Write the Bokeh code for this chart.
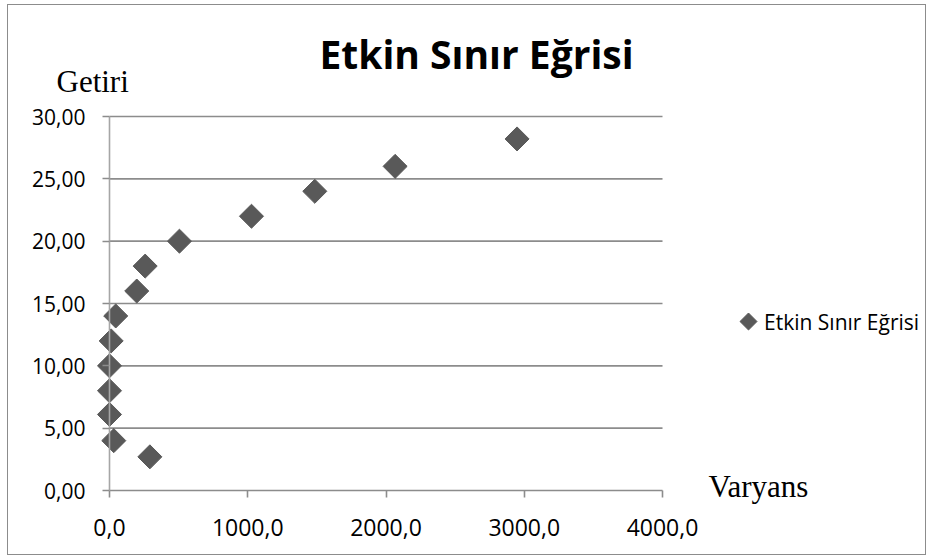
from bokeh.plotting import figure
from bokeh.models import FixedTicker, Label, Legend, LegendItem, ColumnDataSource, Range1d
from bokeh.embed import file_html
from bokeh.resources import INLINE

# ---- data ----
series_name = "Etkin Sınır Eğrisi"
varyans = [292, 31, 0, 0, 0, 12, 45, 197, 258, 506, 1027, 1485, 2066, 2948]
getiri = [2.7, 4.0, 6.1, 8.0, 10.0, 12.0, 14.0, 16.0, 18.0, 20.0, 22.0, 24.0, 26.0, 28.2]
x_ticks = [0, 1000, 2000, 3000, 4000]
x_tick_labels = ["0,0", "1000,0", "2000,0", "3000,0", "4000,0"]
y_ticks = [0, 5, 10, 15, 20, 25, 30]
y_tick_labels = ["0,00", "5,00", "10,00", "15,00", "20,00", "25,00", "30,00"]
title_text = "Etkin Sınır Eğrisi"
y_label_text = "Getiri"
x_label_text = "Varyans"

# ---- geometry (canvas pixels) ----
W, H = 919, 551
AX_L, AX_R = 101, 654      # x = 0 .. 4000
AX_B, AX_T = 485, 111      # y = 0 .. 30 (from canvas top)
x0, x1 = x_ticks[0], x_ticks[-1]
y0, y1 = y_ticks[0], y_ticks[-1]
kx = (x1 - x0) / (AX_R - AX_L)
ky = (y1 - y0) / (AX_B - AX_T)
xr = Range1d(x0 - AX_L * kx, x0 + (W - AX_L) * kx)
yr = Range1d(y0 - (H - AX_B) * ky, y0 + AX_B * ky)

def to_data(cx, cy):
    """canvas pixel -> data coordinates (for legend key placement)"""
    return x0 + (cx - AX_L) * kx, y0 + (AX_B - cy) * ky

GRID = "#8c8c8c"
MARK = "#595959"

p = figure(width=W, height=H, x_range=xr, y_range=yr,
           min_border=0, min_border_left=0, min_border_right=0,
           min_border_top=0, min_border_bottom=0,
           output_backend="svg", toolbar_location=None,
           background_fill_color="white", border_fill_color="white")
p.styles = {"border": "1px solid #8c8c8c", "margin-left": "7px", "margin-top": "4px"}
p.title = None
p.outline_line_color = None
p.xgrid.visible = False
p.ygrid.visible = False

# horizontal gridlines
p.segment(x0=[x0] * (len(y_ticks) - 1), x1=[x1] * (len(y_ticks) - 1),
          y0=y_ticks[1:], y1=y_ticks[1:], line_color=GRID, line_width=1.6)

src = ColumnDataSource(dict(x=varyans, y=getiri))
r = p.scatter("x", "y", source=src, marker="square", angle=45, angle_units="deg",
              size=17, fill_color=MARK, line_color=MARK)

# axes placed at the data origin
p.xaxis.fixed_location = y0
p.xaxis.bounds = (x0, x1)
p.yaxis.fixed_location = x0
p.yaxis.bounds = (y0, y1)
p.xaxis.ticker = FixedTicker(ticks=x_ticks)
p.xaxis.major_label_overrides = {t: l for t, l in zip(x_ticks, x_tick_labels)}
p.yaxis.ticker = FixedTicker(ticks=y_ticks)
p.yaxis.major_label_overrides = {t: l for t, l in zip(y_ticks, y_tick_labels)}
for ax in (p.xaxis[0], p.yaxis[0]):
    ax.axis_line_color = GRID
    ax.axis_line_width = 1.6
    ax.major_tick_line_color = GRID
    ax.major_tick_line_width = 1.6
    ax.major_tick_in = 0
    ax.major_tick_out = 7
    ax.minor_tick_line_color = None
    ax.major_label_text_font = "Open Sans"
    ax.major_label_text_color = "black"
p.xaxis.major_label_text_font_size = "23px"
p.xaxis.major_label_standoff = 21
p.yaxis.major_label_text_font_size = "21px"
p.yaxis.major_label_standoff = 17
p.yaxis.axis_line_color = "#a6a6a6"

# texts (screen units: from frame left / frame bottom)
def lab(text, sx, sy, font, size, style="normal", align="left"):
    p.add_layout(Label(x=sx, y=sy, x_units="screen", y_units="screen", text=text,
                       text_font=font, text_font_size=size, text_font_style=style,
                       text_align=align, text_baseline="alphabetic", text_color="black"))

lab(title_text, 468, 503, "Open Sans", "39px", "bold", "center")
lab(y_label_text, 48, 475, "Liberation Serif", "31px")
lab(x_label_text, 700, 70, "Liberation Serif", "31px")

# legend: text through a Legend, key drawn as a rotated square like the series markers
key_x, key_y = to_data(740, 316)
key = p.scatter(x=[key_x], y=[key_y], marker="square", angle=45, angle_units="deg",
                size=12, fill_color=MARK, line_color=MARK)
dummy = p.scatter(x=[], y=[], marker="square", size=0, fill_alpha=0, line_alpha=0)
legend = Legend(items=[LegendItem(label=series_name, renderers=[dummy])],
                location=(726, 220), padding=0, margin=0, spacing=0,
                glyph_width=28, glyph_height=28, label_standoff=2,
                label_text_font="Open Sans", label_text_font_size="21px",
                label_text_color="black", border_line_color=None,
                background_fill_alpha=0)
p.add_layout(legend)

open("out.html", "w").write(file_html(p, INLINE))
